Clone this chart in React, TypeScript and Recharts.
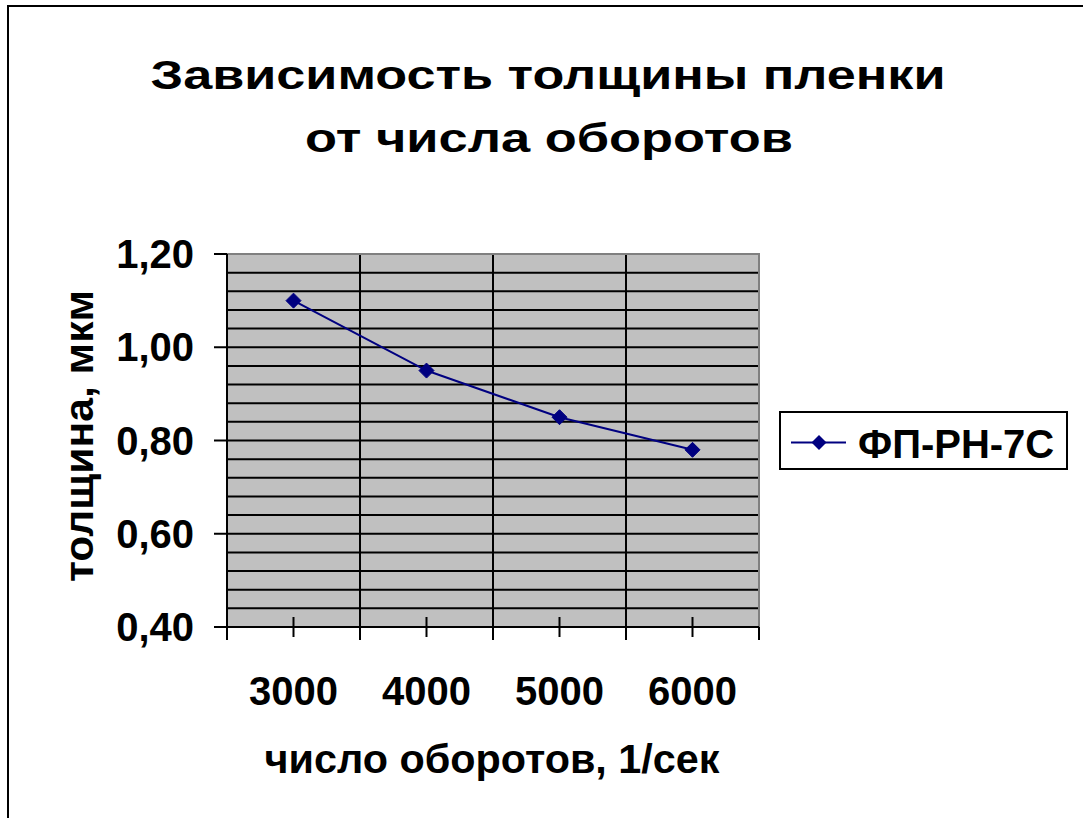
import React from "react";
import { LineChart, Line, XAxis, YAxis, CartesianGrid, ReferenceArea } from "recharts";

const rpm = [3000, 4000, 5000, 6000];
const thickness = [1.1, 0.95, 0.85, 0.78];
const seriesName = "ФП-РН-7С";
const yTicks = [0.4, 0.6, 0.8, 1.0, 1.2];
const minorGridValues = [0.44, 0.48, 0.52, 0.56, 0.6, 0.64, 0.68, 0.72, 0.76, 0.8, 0.84, 0.88, 0.92, 0.96, 1.0, 1.04, 1.08, 1.12, 1.16];
const categoryBounds = [2500, 3500, 4500, 5500, 6500];
const innerBounds = [3500, 4500, 5500];
const xTicks = [2500, 3000, 3500, 4000, 4500, 5000, 5500, 6000, 6500];
const yDomain = [0.4, 1.2];
const xDomain = [2500, 6500];

const titleLines = ["Зависимость толщины пленки", "от числа оборотов"];
const yLabel = "толщина, мкм";
const xLabel = "число оборотов, 1/сек";

const data = rpm.map((r, i) => ({ rpm: r, value: thickness[i] }));

const FONT = "'Liberation Sans', Arial, Helvetica, sans-serif";
const LINE_COLOR = "#000080";

const XTick = (props: any) => {
  const { x, y, payload } = props;
  const v = payload.value;
  if (categoryBounds.includes(v)) {
    return <line x1={x} y1={y} x2={x} y2={y + 13} stroke="#000" strokeWidth={2} />;
  }
  return (
    <g>
      <line x1={x} y1={y - 10} x2={x} y2={y + 10} stroke="#000" strokeWidth={2} />
      <text x={x} y={y + 78} textAnchor="middle" fontFamily={FONT} fontWeight="bold" fontSize={40} fill="#000">
        {v}
      </text>
    </g>
  );
};

const Diamond = (props: any) => {
  const { cx, cy, index } = props;
  const s = 7.5;
  return (
    <polygon
      key={`d-${index}`}
      points={`${cx},${cy - s} ${cx + s},${cy} ${cx},${cy + s} ${cx - s},${cy}`}
      fill={LINE_COLOR}
      stroke={LINE_COLOR}
    />
  );
};

const hGen = (props: any) => {
  const yAxis = props && props.yAxis;
  if (yAxis && typeof yAxis.scale === "function") {
    return minorGridValues.map((v) => yAxis.scale(v));
  }
  const off = props.offset;
  return minorGridValues.map((v) => off.top + ((yDomain[1] - v) / (yDomain[1] - yDomain[0])) * off.height);
};

export default function App() {
  return (
    <div style={{ position: "absolute", left: 0, top: 0, width: 1083, height: 818, overflow: "hidden", background: "#fff" }}>
      <div style={{ position: "absolute", left: 7, top: 5, width: 1200, height: 1000, border: "2px solid #000", boxSizing: "border-box" }} />
      <div style={{ position: "absolute", left: 0, top: 0 }}>
        <LineChart width={1083} height={818} data={data} margin={{ top: 254, right: 324, bottom: 131, left: 127 }}>
          <CartesianGrid
            fill="#C0C0C0"
            stroke="#000"
            strokeWidth={2}
            horizontalCoordinatesGenerator={hGen}
            verticalValues={innerBounds}
          />
          <ReferenceArea x1={xDomain[0]} x2={xDomain[1]} y1={yDomain[0]} y2={yDomain[1]} fill="none" stroke="#808080" strokeWidth={2} fillOpacity={0} />
          <XAxis
            dataKey="rpm"
            type="number"
            domain={xDomain}
            ticks={xTicks}
            interval={0}
            height={60}
            tickSize={0}
            tickMargin={0}
            tickLine={false}
            axisLine={{ stroke: "#000", strokeWidth: 2 }}
            tick={<XTick />}
          />
          <YAxis
            type="number"
            domain={yDomain}
            ticks={yTicks}
            width={100}
            tickSize={13}
            tickMargin={20}
            tickLine={{ stroke: "#000", strokeWidth: 2 }}
            axisLine={{ stroke: "#000", strokeWidth: 2 }}
            tickFormatter={(v: number) => v.toFixed(2).replace(".", ",")}
            tick={{ fill: "#000", fontSize: 40, fontWeight: "bold", fontFamily: FONT }}
          />
          <Line
            type="linear"
            dataKey="value"
            name={seriesName}
            stroke={LINE_COLOR}
            strokeWidth={2}
            dot={Diamond}
            activeDot={false}
            isAnimationActive={false}
          />
        </LineChart>
      </div>
      <svg width={1083} height={818} style={{ position: "absolute", left: 0, top: 0, pointerEvents: "none" }}>
        <text x={548} y={89} textAnchor="middle" textLength={795} lengthAdjust="spacingAndGlyphs" fontFamily={FONT} fontWeight="bold" fontSize={41} fill="#000">
          {titleLines[0]}
        </text>
        <text x={549} y={152} textAnchor="middle" textLength={488} lengthAdjust="spacingAndGlyphs" fontFamily={FONT} fontWeight="bold" fontSize={41} fill="#000">
          {titleLines[1]}
        </text>
        <text transform="translate(93,436) rotate(-90)" textAnchor="middle" textLength={292} lengthAdjust="spacingAndGlyphs" fontFamily={FONT} fontWeight="bold" fontSize={40} fill="#000">
          {yLabel}
        </text>
        <text x={492} y={773} textAnchor="middle" textLength={455} lengthAdjust="spacingAndGlyphs" fontFamily={FONT} fontWeight="bold" fontSize={40} fill="#000">
          {xLabel}
        </text>
        <g transform="translate(779,411)">
          <rect x={1} y={1} width={287} height={57} fill="#fff" stroke="#000" strokeWidth={2} />
          <line x1={12} y1={31.5} x2={67} y2={31.5} stroke={LINE_COLOR} strokeWidth={2} />
          <polygon points="40,24 47.5,31.5 40,39 32.5,31.5" fill={LINE_COLOR} />
          <text x={79} y={46.5} fontFamily={FONT} fontWeight="bold" fontSize={40} fill="#000">
            {seriesName}
          </text>
        </g>
      </svg>
    </div>
  );
}
